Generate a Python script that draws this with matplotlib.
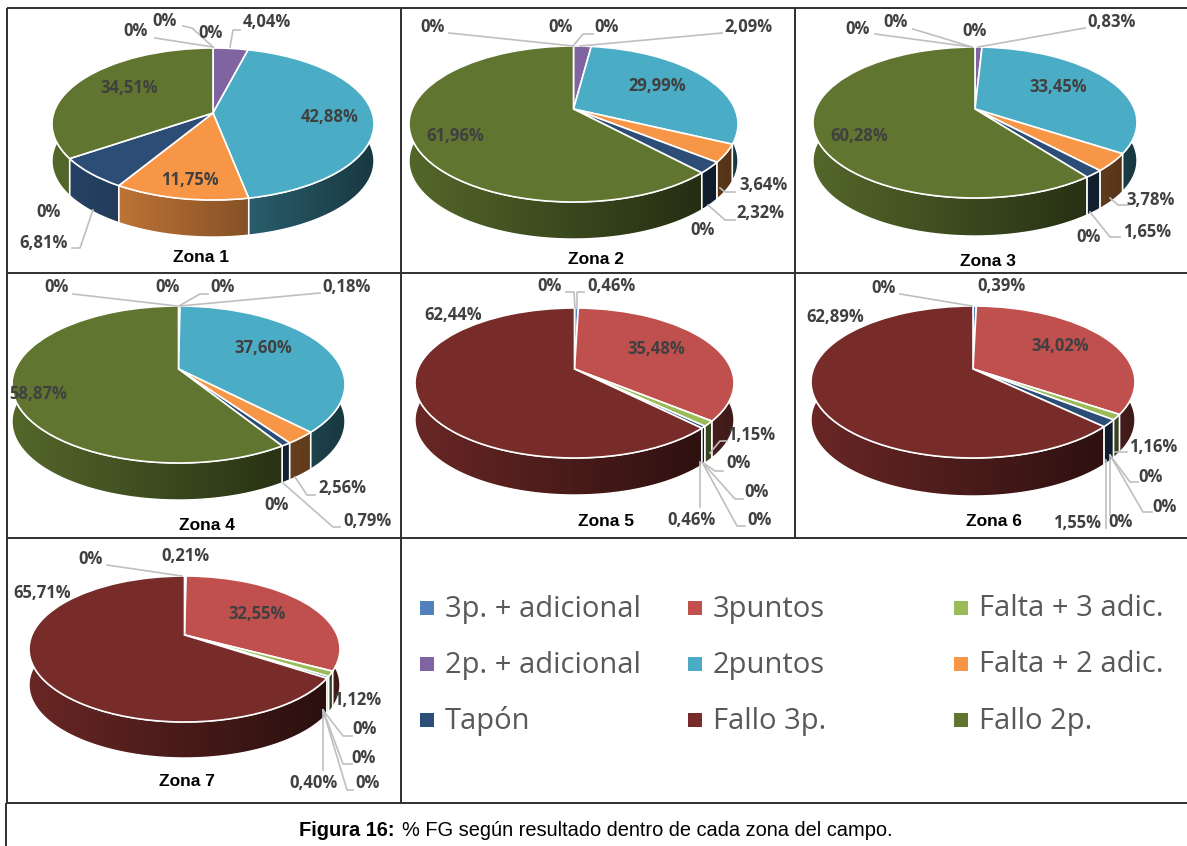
import numpy as np
import matplotlib
matplotlib.use("Agg")
import matplotlib.pyplot as plt
from matplotlib.patches import Polygon, Rectangle
from matplotlib.transforms import Transform, Affine2D

W, H = 1187, 846

# slice order in every pie, clockwise from 12 o'clock
categories = ["3p. + adicional", "3puntos", "Falta + 3 adic.", "2p. + adicional", "2puntos",
              "Falta + 2 adic.", "Tapón", "Fallo 3p.", "Fallo 2p."]
cat_colors = ["#4f81bd", "#c0504d", "#9bbb59", "#8064a2", "#4bacc6",
              "#f79646", "#2c4d75", "#772c2a", "#5f7530"]

zona1 = [0, 0, 0, 4.04, 42.88, 11.75, 6.81, 0, 34.51]
zona2 = [0, 0, 0, 2.09, 29.99, 3.64, 2.32, 0, 61.96]
zona3 = [0, 0, 0, 0.83, 33.45, 3.78, 1.65, 0, 60.28]
zona4 = [0, 0, 0, 0.18, 37.60, 2.56, 0.79, 0, 58.87]
zona5 = [0.46, 35.48, 1.15, 0, 0, 0, 0.46, 62.44, 0]
zona6 = [0.39, 34.02, 1.16, 0, 0, 0, 1.55, 62.89, 0]
zona7 = [0.21, 32.55, 1.12, 0, 0, 0, 0.40, 65.71, 0]
zonas = [zona1, zona2, zona3, zona4, zona5, zona6, zona7]
zona_names = ["Zona 1", "Zona 2", "Zona 3", "Zona 4", "Zona 5", "Zona 6", "Zona 7"]

# layout in pixels: left, right, apex y, top, bottom, wall bottom
geom = [(52, 374, 113, 48, 200, 237),
        (409, 738, 109, 46, 202, 239),
        (813, 1137, 109, 47, 198, 236),
        (12, 345, 369, 306, 463, 500),
        (415, 734, 369, 308, 458, 495),
        (811, 1135, 369, 306, 458, 496),
        (29, 340, 635, 576, 722, 758)]

name_pos = [(201, 257), (596, 259), (988, 262), (207, 525), (606, 522), (994, 522), (187, 781)]

# label centre per slice, same order as the values
label_pos = [
    [(136, 31), (165, 21), (211, 33), (267, 22), (330, 117), (190, 180), (44, 243), (49, 212), (129, 88)],
    [(433, 27), (561, 27), (607, 27), (748, 27), (657, 86), (763, 185), (760, 213), (703, 230), (455, 136)],
    [(858, 29), (896, 22), (975, 31), (1112, 22), (1058, 87), (1151, 200), (1147, 232), (1089, 237), (859, 136)],
    [(57, 287), (168, 287), (223, 287), (347, 287), (263, 348), (342, 488), (367, 521), (277, 505), (38, 394)],
    [(611, 286), (656, 349), (751, 435), (739, 463), (757, 492), (760, 520), (692, 520), (453, 315), (550, 286)],
    [(1002, 286), (1060, 346), (1153, 447), (1151, 477), (1165, 507), (1121, 522), (1077, 523), (835, 317), (884, 288)],
    [(185, 556), (257, 614), (357, 700), (365, 729), (364, 758), (368, 783), (313, 783), (42, 593), (91, 559)],
]

leaders = [
    [[(155, 38), (213, 47)], [(183, 26), (192, 28), (213, 47)], [(240, 30), (233, 30), (230, 47)],
     [(72, 248), (80, 248), (93, 210)]],
    [[(449, 33), (573, 46)], [(593, 34), (583, 34), (573, 46)], [(722, 33), (580, 46)],
     [(735, 192), (725, 192), (720, 188)], [(735, 220), (725, 220), (708, 205)]],
    [[(875, 34), (972, 47)], [(913, 29), (972, 47)], [(1085, 28), (978, 47)],
     [(1128, 205), (1118, 205), (1110, 198)], [(1120, 237), (1110, 237), (1090, 212)]],
    [[(73, 294), (177, 306)], [(208, 294), (200, 294), (179, 306)], [(320, 293), (180, 306)],
     [(315, 495), (307, 495), (295, 477)], [(340, 527), (333, 527), (283, 483)]],
    [[(566, 292), (574, 292), (575, 308)], [(584, 292), (577, 292), (577, 308)],
     [(727, 441), (720, 441), (710, 453)], [(723, 471), (715, 471), (702, 462)],
     [(743, 499), (735, 499), (702, 462)], [(745, 526), (737, 526), (702, 462)], [(700, 507), (700, 462)]],
    [[(900, 294), (972, 306)], [(1127, 452), (1115, 452)], [(1138, 482), (1130, 482), (1110, 455)],
     [(1152, 512), (1143, 512), (1110, 455)], [(1106, 528), (1106, 460)], [(1110, 515), (1110, 455)]],
    [[(107, 565), (182, 576)], [(352, 736), (343, 736), (323, 710)], [(352, 764), (343, 764), (323, 710)],
     [(353, 790), (347, 790), (323, 710)], [(323, 770), (323, 710)]],
]

legend_x = [420, 688, 954]
legend_y = [608, 664, 720]
legend_rows = [["3p. + adicional", "2p. + adicional", "Tapón"],
               ["3puntos", "2puntos", "Fallo 3p."],
               ["Falta + 3 adic.", "Falta + 2 adic.", "Fallo 2p."]]


class Tilt(Transform):
    # perspective of the pie plane, near side is bigger
    input_dims = 2
    output_dims = 2
    is_affine = False
    has_inverse = False

    def __init__(self, k):
        super().__init__()
        self.k = k

    def transform_non_affine(self, values):
        values = np.asarray(values, dtype=float)
        w = 1 + self.k * values[:, 1]
        return values / w[:, None]


def fmt(v):
    if v == 0:
        return "0%"
    return f"{v:.2f}".replace(".", ",") + "%"


fig = plt.figure(figsize=(W / 100, H / 100), dpi=100)
ax = fig.add_axes([0, 0, 1, 1])

for z, vals in enumerate(zonas):
    left, right, apex, top, bottom, wall = geom[z]
    cx = (left + right) / 2
    up, down = apex - top, bottom - apex
    k = (down - up) / (down + up)
    ry = (up + down) / 2
    rx = (right - left) / 2
    tilt = Tilt(k)
    place = Affine2D().scale(rx * np.sqrt(1 - k**2), -ry * (1 - k**2)).translate(cx, apex)
    depth = wall - bottom

    shown = [(v, c) for v, c in zip(vals, cat_colors) if v > 0]
    wedges, _ = ax.pie([s[0] for s in shown], colors=[s[1] for s in shown], startangle=90, counterclock=False,
                       wedgeprops=dict(edgecolor="white", linewidth=1.2, zorder=3))
    for w, (v, c) in zip(wedges, shown):
        w.set_transform(tilt + place + ax.transData)
        # side wall of this slice, shaded left to right across the whole pie
        t = np.radians(np.linspace(w.theta1, w.theta2, 100))
        unit = np.column_stack([np.cos(t), np.sin(t)])
        edge = place.transform(tilt.transform(unit))
        pts = np.vstack([edge, (edge + [0, depth])[::-1]])
        poly = Polygon(pts, closed=True, facecolor="none", edgecolor="white", linewidth=1.0, zorder=2)
        ax.add_patch(poly)
        shade = np.linspace(0.88, 0.33, 128)[None, :, None] * np.array(matplotlib.colors.to_rgb(c))[None, None, :]
        im = ax.imshow(shade, extent=(left, right, wall + 2, top), aspect="auto", zorder=1, interpolation="bilinear")
        im.set_clip_path(poly)

    for pts in leaders[z]:
        pts = np.array(pts)
        ax.plot(pts[:, 0], pts[:, 1], color="#bfbfbf", lw=1.2, zorder=4)
    for v, (x, y) in zip(vals, label_pos[z]):
        ax.text(x, y, fmt(v), ha="center", va="center", fontsize=12, fontweight="bold",
                family="Open Sans", color="#404040", zorder=5)
    ax.text(name_pos[z][0], name_pos[z][1], zona_names[z], ha="center", va="center", fontsize=12.5,
            fontweight="bold", family="Liberation Sans", color="black", zorder=5)

# legend
for col, names in enumerate(legend_rows):
    for row, name in enumerate(names):
        c = cat_colors[categories.index(name)]
        ax.add_patch(Rectangle((legend_x[col], legend_y[row] - 7), 14, 14, facecolor=c, edgecolor="none", zorder=3))
        ax.text(legend_x[col] + 25, legend_y[row] + 1, name, ha="left", va="center", fontsize=21,
                family="Open Sans", color="#595959")

# table borders
line = dict(color="#303030", lw=1.4, zorder=6, solid_capstyle="butt")
for y in [8, 273, 538, 803]:
    ax.plot([7, W], [y, y], **line)
for x, y0, y1 in [(7, 8, 803), (401, 8, 803), (795, 8, 538), (6, 803, H)]:
    ax.plot([x, x], [y0, y1], **line)

ax.text(299, 830, "Figura 16:", ha="left", va="center", fontsize=14.4, fontweight="bold",
        family="Liberation Sans", color="black")
ax.text(402, 830, "% FG según resultado dentro de cada zona del campo.", ha="left", va="center",
        fontsize=14.4, family="Liberation Sans", color="black")

ax.set_aspect("auto")
ax.set_xlim(0, W)
ax.set_ylim(H, 0)
ax.set_position([0, 0, 1, 1])
ax.axis("off")
fig.savefig("out.png", dpi=100, facecolor="white")
